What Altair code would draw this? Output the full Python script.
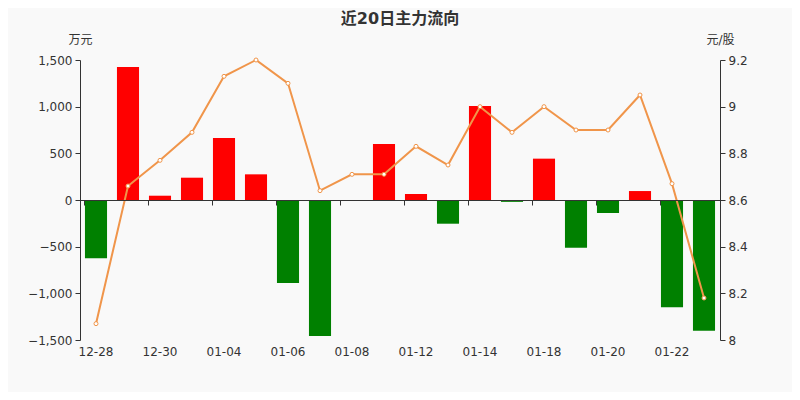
import altair as alt
import pandas as pd

dates = ["12-28", "12-29", "12-30", "12-31", "01-04", "01-05", "01-06", "01-07",
         "01-08", "01-11", "01-12", "01-13", "01-14", "01-15", "01-18", "01-19",
         "01-20", "01-21", "01-22", "01-25"]
flow = [-625, 1425, 46, 239, 664, 275, -889, -1457, 0, 600, 64, -254, 1007, -20,
        443, -511, -139, 96, -1150, -1400]
price = [8.07, 8.66, 8.77, 8.89, 9.13, 9.20, 9.10, 8.64, 8.71, 8.71, 8.83, 8.75,
         9.00, 8.89, 9.00, 8.90, 8.90, 9.05, 8.67, 8.18]
label_dates = dates[0::2]
left_ticks = [-1500, -1000, -500, 0, 500, 1000, 1500]
right_ticks = [8, 8.2, 8.4, 8.6, 8.8, 9, 9.2]

df = pd.DataFrame({"date": dates, "flow": flow, "price": price})
df["color"] = ["#ff0000" if v >= 0 else "#008000" for v in flow]

FONT = "DejaVu Sans, Noto Sans CJK SC"

x = alt.X("date:N", sort=dates, title=None,
          scale=alt.Scale(paddingInner=0.31, paddingOuter=0.155),
          axis=alt.Axis(values=label_dates, bandPosition=0,
                        offset=-140, labelPadding=141, labelAngle=0,
                        domainColor="#333333", tickColor="#333333", tickSize=5,
                        labelColor="#333333", labelFontSize=12, labelFont=FONT,
                        zindex=1, grid=False))

bars = alt.Chart(df).mark_bar().encode(
    x=x,
    y=alt.Y("flow:Q", scale=alt.Scale(domain=[-1500, 1500], nice=False, zero=False),
            axis=alt.Axis(values=left_ticks, labelExpr="format(datum.value, ',')",
                          title="万元", titleAngle=0,
                          titleX=0, titleY=-21, titleAlign="center",
                          titleBaseline="middle", titleFontWeight="normal",
                          titleFontSize=12, titleColor="#333333", titleFont=FONT,
                          domainColor="#333333", tickColor="#333333", tickSize=5,
                          labelColor="#333333", labelFontSize=12, labelFont=FONT,
                          grid=False, labelPadding=3)),
    color=alt.Color("color:N", scale=None),
)

line = alt.Chart(df).mark_line(
    color="#f0954a", strokeWidth=2,
    point=alt.OverlayMarkDef(filled=True, fill="#ffffff", stroke="#f0954a",
                             strokeWidth=1, size=16)
).encode(
    x=alt.X("date:N", sort=dates),
    y=alt.Y("price:Q", scale=alt.Scale(domain=[8, 9.2], nice=False, zero=False),
            axis=alt.Axis(orient="right", values=right_ticks,
                          labelExpr="format(datum.value, '~g')",
                          title="元/股", titleAngle=0, titleX=0, titleY=-21,
                          titleAlign="center", titleBaseline="middle",
                          titleFontWeight="normal", titleFontSize=12,
                          titleColor="#333333", titleFont=FONT,
                          domainColor="#333333", tickColor="#333333", tickSize=5,
                          labelColor="#333333", labelFontSize=12, labelFont=FONT,
                          grid=False, labelPadding=3)),
)

chart = alt.layer(bars, line).resolve_scale(y="independent").properties(
    width=640, height=280,
    autosize=alt.AutoSizeParams(type="none"),
    padding={"left": 72, "right": 72, "top": 52, "bottom": 52},
    background="#f9f9f9",
    title=alt.TitleParams("近20日主力流向", fontSize=16, fontWeight="bold",
                          color="#333333", font=FONT, anchor="middle", offset=6),
).configure_view(stroke=None)

chart.save("out.html", embed_options={"renderer": "svg", "actions": False})
